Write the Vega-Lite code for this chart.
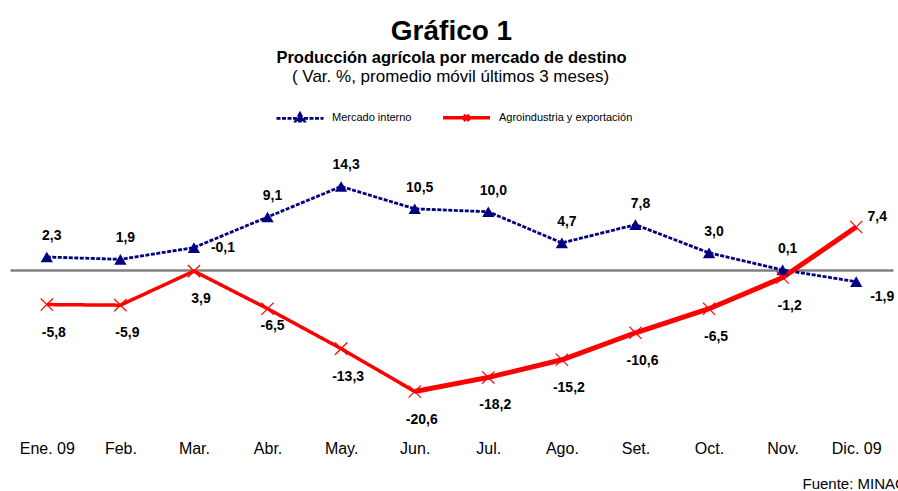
{
  "$schema": "https://vega.github.io/schema/vega-lite/v6.json",
  "width": 883,
  "height": 282,
  "autosize": "none",
  "padding": {"left": 10, "top": 153, "right": 5, "bottom": 56},
  "background": "white",
  "config": {"font": "Liberation Sans", "view": {"stroke": null}},
  "title": {
    "text": "Gráfico 1",
    "subtitle": "Producción agrícola por mercado de destino",
    "anchor": "middle",
    "fontSize": 28,
    "fontWeight": "bold",
    "color": "black",
    "subtitleFontSize": 16.5,
    "subtitleFontWeight": "bold",
    "subtitleColor": "black",
    "subtitlePadding": 4,
    "offset": 1
  },
  "data": {
    "values": [
      {"month": "Ene. 09", "series": "Mercado interno", "value": 2.3, "label": "2,3"},
      {"month": "Feb.", "series": "Mercado interno", "value": 1.9, "label": "1,9"},
      {"month": "Mar.", "series": "Mercado interno", "value": 3.9, "label": "-0,1"},
      {"month": "Abr.", "series": "Mercado interno", "value": 9.1, "label": "9,1"},
      {"month": "May.", "series": "Mercado interno", "value": 14.3, "label": "14,3"},
      {"month": "Jun.", "series": "Mercado interno", "value": 10.5, "label": "10,5"},
      {"month": "Jul.", "series": "Mercado interno", "value": 10.0, "label": "10,0"},
      {"month": "Ago.", "series": "Mercado interno", "value": 4.7, "label": "4,7"},
      {"month": "Set.", "series": "Mercado interno", "value": 7.8, "label": "7,8"},
      {"month": "Oct.", "series": "Mercado interno", "value": 3.0, "label": "3,0"},
      {"month": "Nov.", "series": "Mercado interno", "value": 0.1, "label": "0,1"},
      {"month": "Dic. 09", "series": "Mercado interno", "value": -1.9, "label": "-1,9"},
      {"month": "Ene. 09", "series": "Agroindustria y exportación", "value": -5.8, "label": "-5,8"},
      {"month": "Feb.", "series": "Agroindustria y exportación", "value": -5.9, "label": "-5,9"},
      {"month": "Mar.", "series": "Agroindustria y exportación", "value": -0.1, "label": "3,9"},
      {"month": "Abr.", "series": "Agroindustria y exportación", "value": -6.5, "label": "-6,5"},
      {"month": "May.", "series": "Agroindustria y exportación", "value": -13.3, "label": "-13,3"},
      {"month": "Jun.", "series": "Agroindustria y exportación", "value": -20.6, "label": "-20,6"},
      {"month": "Jul.", "series": "Agroindustria y exportación", "value": -18.2, "label": "-18,2"},
      {"month": "Ago.", "series": "Agroindustria y exportación", "value": -15.2, "label": "-15,2"},
      {"month": "Set.", "series": "Agroindustria y exportación", "value": -10.6, "label": "-10,6"},
      {"month": "Oct.", "series": "Agroindustria y exportación", "value": -6.5, "label": "-6,5"},
      {"month": "Nov.", "series": "Agroindustria y exportación", "value": -1.2, "label": "-1,2"},
      {"month": "Dic. 09", "series": "Agroindustria y exportación", "value": 7.4, "label": "7,4"}
    ]
  },
  "encoding": {
    "x": {
      "field": "month",
      "type": "nominal",
      "sort": ["Ene. 09", "Feb.", "Mar.", "Abr.", "May.", "Jun.", "Jul.", "Ago.", "Set.", "Oct.", "Nov.", "Dic. 09"],
      "scale": {"type": "point", "padding": 0.5},
      "axis": {
        "title": "Fuente: MINAG",
        "titleX": 792,
        "titleY": 48,
        "titleAlign": "left",
        "titleBaseline": "middle",
        "titleFontSize": 15,
        "titleFontWeight": "normal",
        "titleColor": "black",
        "labelFontSize": 16,
        "labelColor": "black",
        "labelAngle": 0,
        "labelPadding": 5,
        "ticks": false,
        "domain": false,
        "grid": false
      }
    },
    "y": {
      "field": "value",
      "type": "quantitative",
      "scale": {"domain": [-28, 20], "nice": false, "zero": false},
      "axis": {
        "values": [0],
        "grid": true,
        "gridColor": "#808080",
        "gridWidth": 2.5,
        "gridOpacity": 1,
        "labels": false,
        "ticks": false,
        "domain": false,
        "title": "( Var. %, promedio móvil últimos 3 meses)",
        "titleAngle": 0,
        "titleX": 440,
        "titleY": -77,
        "titleAlign": "center",
        "titleBaseline": "middle",
        "titleFontSize": 17,
        "titleFontWeight": "normal",
        "titleColor": "black"
      }
    }
  },
  "layer": [
    {
      "mark": {"type": "line"},
      "encoding": {
        "color": {
          "field": "series",
          "type": "nominal",
          "scale": {"domain": ["Mercado interno", "Agroindustria y exportación"], "range": ["#000080", "#FF0000"]},
          "legend": {
            "orient": "none",
            "legendX": 265,
            "legendY": -61,
            "direction": "horizontal",
            "title": null,
            "padding": 0,
            "labelFontSize": 11,
            "labelColor": "black",
            "labelOffset": 7,
            "columnPadding": 24,
            "symbolSize": 2209,
            "encode": {
              "symbols": {
                "update": {
                  "shape": {"signal": "datum.value === 'Mercado interno' ? 'M-1,0L1,0M0,-0.2L0.18,0.12L-0.18,0.12Z' : 'M-1,0L1,0M-0.12,-0.12L0.12,0.12M-0.12,0.12L0.12,-0.12'"},
                  "fill": {"signal": "datum.value === 'Mercado interno' ? '#000080' : 'transparent'"},
                  "stroke": {"signal": "datum.value === 'Mercado interno' ? '#000080' : '#FF0000'"},
                  "strokeWidth": {"signal": "datum.value === 'Mercado interno' ? 2.5 : 4"},
                  "strokeDash": {"signal": "datum.value === 'Mercado interno' ? [4, 2] : [1, 0]"},
                  "size": {"value": 2209}
                }
              }
            }
          }
        },
        "strokeDash": {
          "field": "series",
          "type": "nominal",
          "scale": {"domain": ["Mercado interno", "Agroindustria y exportación"], "range": [[4, 1.5], [1, 0]]},
          "legend": null
        },
        "strokeWidth": {
          "field": "series",
          "type": "nominal",
          "scale": {"domain": ["Mercado interno", "Agroindustria y exportación"], "range": [2.8, 3.5]},
          "legend": null
        }
      }
    },
    {
      "transform": [{"filter": "datum.series === 'Agroindustria y exportación' && indexof(['Jun.','Jul.','Ago.','Set.','Oct.','Nov.','Dic. 09'], datum.month) >= 0"}],
      "mark": {"type": "line", "color": "#FF0000", "strokeWidth": 5}
    },
    {
      "transform": [{"filter": "datum.series === 'Mercado interno'"}],
      "mark": {"type": "point", "shape": "triangle-up", "filled": true, "color": "#000080", "opacity": 1, "size": 150}
    },
    {
      "transform": [{"filter": "datum.series === 'Agroindustria y exportación'"}],
      "mark": {"type": "point", "shape": "M-1,-1L1,1M-1,1L1,-1", "filled": false, "color": "#FF0000", "strokeWidth": 1.2, "opacity": 1, "size": 150}
    },
    {
      "transform": [{"filter": "datum.series === 'Mercado interno' && datum.month !== 'Mar.' && datum.month !== 'Dic. 09'"}],
      "mark": {"type": "text", "fontSize": 14, "fontWeight": "bold", "color": "black", "dx": 5, "dy": -21, "baseline": "middle"},
      "encoding": {"text": {"field": "label"}}
    },
    {
      "transform": [{"filter": "datum.series === 'Mercado interno' && datum.month === 'Mar.'"}],
      "mark": {"type": "text", "fontSize": 14, "fontWeight": "bold", "color": "black", "dx": 29, "dy": 0, "baseline": "middle"},
      "encoding": {"text": {"field": "label"}}
    },
    {
      "transform": [{"filter": "datum.series === 'Mercado interno' && datum.month === 'Dic. 09'"}],
      "mark": {"type": "text", "fontSize": 14, "fontWeight": "bold", "color": "black", "dx": 26, "dy": 15, "baseline": "middle"},
      "encoding": {"text": {"field": "label"}}
    },
    {
      "transform": [{"filter": "datum.series === 'Agroindustria y exportación' && datum.month !== 'Abr.' && datum.month !== 'Dic. 09'"}],
      "mark": {"type": "text", "fontSize": 14, "fontWeight": "bold", "color": "black", "dx": 7, "dy": 28, "baseline": "middle"},
      "encoding": {"text": {"field": "label"}}
    },
    {
      "transform": [{"filter": "datum.series === 'Agroindustria y exportación' && datum.month === 'Abr.'"}],
      "mark": {"type": "text", "fontSize": 14, "fontWeight": "bold", "color": "black", "dx": 5, "dy": 17, "baseline": "middle"},
      "encoding": {"text": {"field": "label"}}
    },
    {
      "transform": [{"filter": "datum.series === 'Agroindustria y exportación' && datum.month === 'Dic. 09'"}],
      "mark": {"type": "text", "fontSize": 14, "fontWeight": "bold", "color": "black", "dx": 21, "dy": -10, "baseline": "middle"},
      "encoding": {"text": {"field": "label"}}
    }
  ]
}
